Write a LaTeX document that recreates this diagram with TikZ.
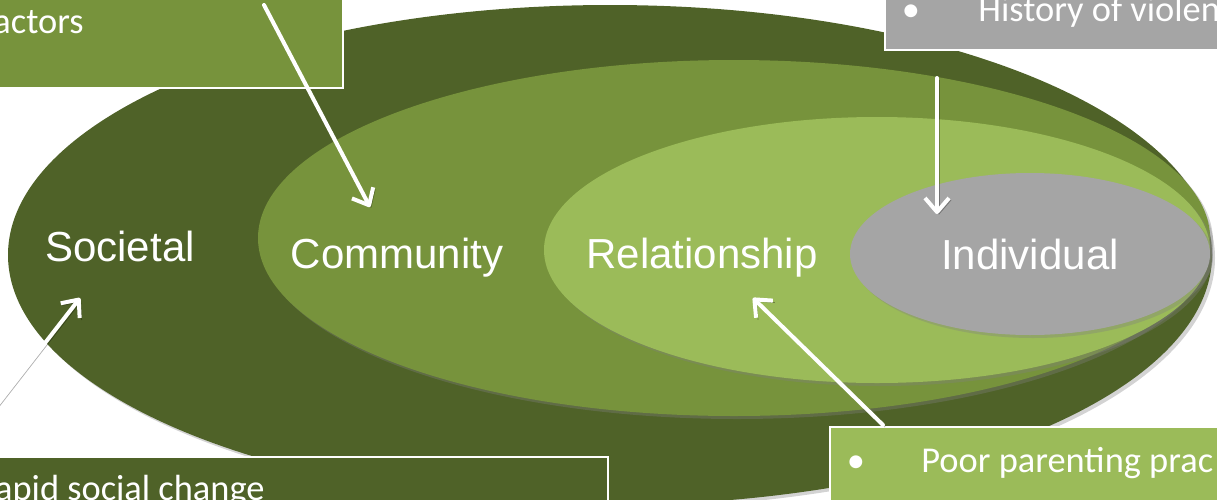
\documentclass[tikz,border=0pt]{standalone}
\usepackage{fontspec}
\setmainfont{Carlito}
\newfontfamily\lblfont{Liberation Sans}
\usetikzlibrary{shapes.geometric,shadows,arrows.meta}
\definecolor{socgreen}{HTML}{4F6228}
\definecolor{comgreen}{HTML}{77933C}
\definecolor{relgreen}{HTML}{9BBB59}
\definecolor{indgray}{HTML}{A5A5A5}
\begin{document}
\begin{tikzpicture}[x=0.5pt, y=-0.5pt,
  ring/.style = {ellipse, inner sep=0, outer sep=0,
    drop shadow={shadow xshift=1.5pt, shadow yshift=-1.5pt, opacity=.35}},
  lbl/.style = {text=white, inner sep=0, anchor=base,
    font=\lblfont\fontsize{21}{25}\selectfont},
  box/.style = {draw=white, line width=.8pt, inner sep=0, outer sep=0},
  boxtxt/.style = {text=white, inner sep=0, font=\fontsize{18.2}{22}\selectfont},
  arr/.style = {draw=white, line width=2pt, line cap=round,
    -{Straight Barb[length=7pt, width=12pt, line join=round]},
    preaction={draw=black, opacity=.3, transform canvas={xshift=1pt, yshift=-1pt}}}]
\useasboundingbox (0,0) rectangle (1217,499);
\clip (0,0) rectangle (1217,499);

% rings
\node[ring, fill=socgreen, minimum width=602pt, minimum height=250pt] (soc) at (610,255) {};
\node[ring, fill=comgreen, minimum width=476pt, minimum height=178pt] (com) at (734,238) {};
\node[ring, fill=relgreen, minimum width=333pt, minimum height=133pt] (rel) at (877,250) {};
\node[ring, fill=indgray,  minimum width=180pt, minimum height=81pt]  (ind) at (1030,254) {};

\node[lbl] (socl) at (120,261) {Societal};
\node[lbl] (coml) at (397,268) {Community};
\node[lbl] (rell) at (702,268) {Relationship};
\node[lbl] (indl) at (1030,269) {Individual};

% factor boxes
\node[box, fill=comgreen, minimum width=176.5pt, minimum height=49pt] (combox) at (166.5,39) {};
\node[boxtxt, anchor=base east] (comtxt) at (84,33) {actors};

\node[box, fill=indgray, minimum width=177.5pt, minimum height=30pt] (indbox) at (1062.5,20) {};
\node[boxtxt, anchor=base] (indbul) at (911,21) {\textbullet};
\node[boxtxt, anchor=base west] (indtxt) at (978,21) {History of violen};

\node[box, fill=socgreen, minimum width=309pt, minimum height=40pt] (socbox) at (299,497) {};
\node[boxtxt, anchor=base east] (soctxt) at (265,500) {apid social change};

\node[box, fill=relgreen, minimum width=205pt, minimum height=51.5pt] (relbox) at (1035,478.5) {};
\node[boxtxt, anchor=base] (relbul) at (856,472) {\textbullet};
\node[boxtxt, anchor=base west] (reltxt) at (921,472) {Poor parenting prac};

% arrows
\coordinate (coms) at (264,5);
\coordinate (come) at (370,207);
\coordinate (inds) at (937,78);
\coordinate (inde) at (937,214);
\coordinate (socs) at (-4,406);
\coordinate (soce) at (80,298);
\coordinate (rels) at (883,425);
\coordinate (rele) at (753,298);

\draw[arr] (coms) -- (come);
\draw[arr] (inds) -- (inde);
\draw[arr] (socs) -- (soce);
\draw[arr] (rels) -- (rele);
\end{tikzpicture}
\end{document}
